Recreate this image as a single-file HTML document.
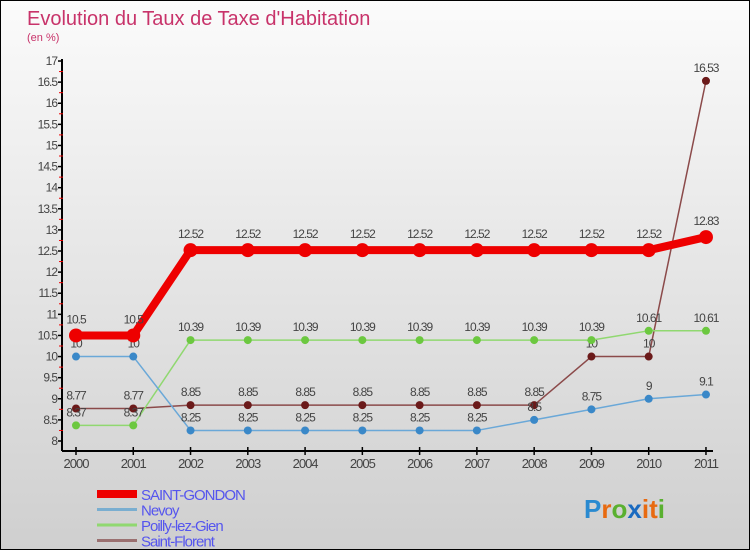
<!DOCTYPE html>
<html><head><meta charset="utf-8"><style>
body{margin:0}
#c{width:748px;height:548px;border:1px solid #000;background:linear-gradient(#fbfbfb,#cfcfcf);position:relative;font-family:"Liberation Sans",sans-serif;overflow:hidden}
svg{position:absolute;left:0;top:0}
text{font-family:"Liberation Sans",sans-serif}
</style></head><body>
<div id="c">
<svg id="s" width="750" height="550">
<text x="26" y="24" font-size="20" fill="#c8336a">Evolution du Taux de Taxe d'Habitation</text>
<text x="26" y="40" font-size="11" fill="#c8336a">(en %)</text>
</svg>
</div>
<script>
const years=[2000,2001,2002,2003,2004,2005,2006,2007,2008,2009,2010,2011];
const saintGondon=[10.5,10.5,12.52,12.52,12.52,12.52,12.52,12.52,12.52,12.52,12.52,12.83];
const nevoy=[10,10,8.25,8.25,8.25,8.25,8.25,8.25,8.5,8.75,9,9.1];
const poilly=[8.37,8.37,10.39,10.39,10.39,10.39,10.39,10.39,10.39,10.39,10.61,10.61];
const saintFlorent=[8.77,8.77,8.85,8.85,8.85,8.85,8.85,8.85,8.85,10,10,16.53];
const yTicks=[8,8.5,9,9.5,10,10.5,11,11.5,12,12.5,13,13.5,14,14.5,15,15.5,16,16.5,17];
const seriesNames=["SAINT-GONDON","Nevoy","Poilly-lez-Gien","Saint-Florent"];

const NS="http://www.w3.org/2000/svg",svg=document.getElementById('s');
const xs=i=>75+i*57.27, ys=v=>440-(v-8)*42.22;
function mk(t,a,p){const e=document.createElementNS(NS,t);for(const k in a)e.setAttribute(k,a[k]);(p||svg).appendChild(e);return e;}
let ax=mk('line',{x1:61,y1:450,x2:61,y2:58,stroke:'#000','stroke-width':2});


let bx=mk('line',{x1:61,y1:450,x2:712,y2:450,stroke:'#000','stroke-width':2});


yTicks.forEach((v,i)=>{
  mk('line',{x1:57,y1:ys(v),x2:62,y2:ys(v),stroke:'#000','stroke-width':1.5});
  if(i<yTicks.length-1)mk('line',{x1:58,y1:ys(v+0.25),x2:62,y2:ys(v+0.25),stroke:'#e00','stroke-width':1});
  const t=mk('text',{x:56,y:ys(v)+4,'font-size':12,fill:'#444','text-anchor':'end','letter-spacing':'-1'});
  t.textContent=String(v);
  
  
});
years.forEach((y,i)=>{
  mk('line',{x1:xs(i),y1:446,x2:xs(i),y2:454,stroke:'#000','stroke-width':1.5});
  const t=mk('text',{x:xs(i),y:467,'font-size':13,fill:'#444','text-anchor':'middle','letter-spacing':'-1'});
  t.textContent=y;
  
  
});
function series(data,color,dot,w,r,name,lblOff){
  const g=mk('g',{});
  
  
  mk('polyline',{points:data.map((v,i)=>xs(i)+','+ys(v)).join(' '),fill:'none',stroke:color,'stroke-width':w,'stroke-linejoin':'round'},g);
  data.forEach((v,i)=>{
    const c=mk('circle',{cx:xs(i),cy:ys(v),r:r,fill:dot},g);
    
    
    const t=mk('text',{x:xs(i),y:ys(v)-lblOff,'font-size':12,fill:'#444','text-anchor':'middle','letter-spacing':'-1'},g);
    t.textContent=String(v);
    
    
  });
}
series(saintFlorent,'#8b4a4a','#6b1a1a',1.5,4,'saint-florent-series',9);
series(poilly,'#90d870','#6cc840',1.5,4,'poilly-series',9);
series(nevoy,'#6aa8d8','#3a88c8',1.5,4,'nevoy-series',9);
series(saintGondon,'#ee0000','#ee0000',8,7,'saint-gondon-series',12);
const lc=['#ee0000','#7aaed0','#90d870','#9a7070'],lw=[8,3,3,3];
seriesNames.forEach((n,i)=>{
  const y=493+i*15.5;
  const g=mk('g',{});
  
  
  mk('line',{x1:96,y1:y,x2:136,y2:y,stroke:lc[i],'stroke-width':lw[i]},g);
  const t=mk('text',{x:140,y:y+6,'font-size':15,fill:'#5555ee','letter-spacing':'-1'},g);
  t.textContent=n;
});
const lg=mk('text',{x:583,y:517,'font-size':26,'font-weight':'bold'});


[['P','#2a8ad0'],['r','#e86a10'],['o','#5ab030'],['x','#1a6ac0'],['i','#e86a10'],['t','#e86a10'],['i','#5ab030']].forEach(([ch,c])=>{const s=mk('tspan',{fill:c},lg);s.textContent=ch;});
</script>
</body></html>
